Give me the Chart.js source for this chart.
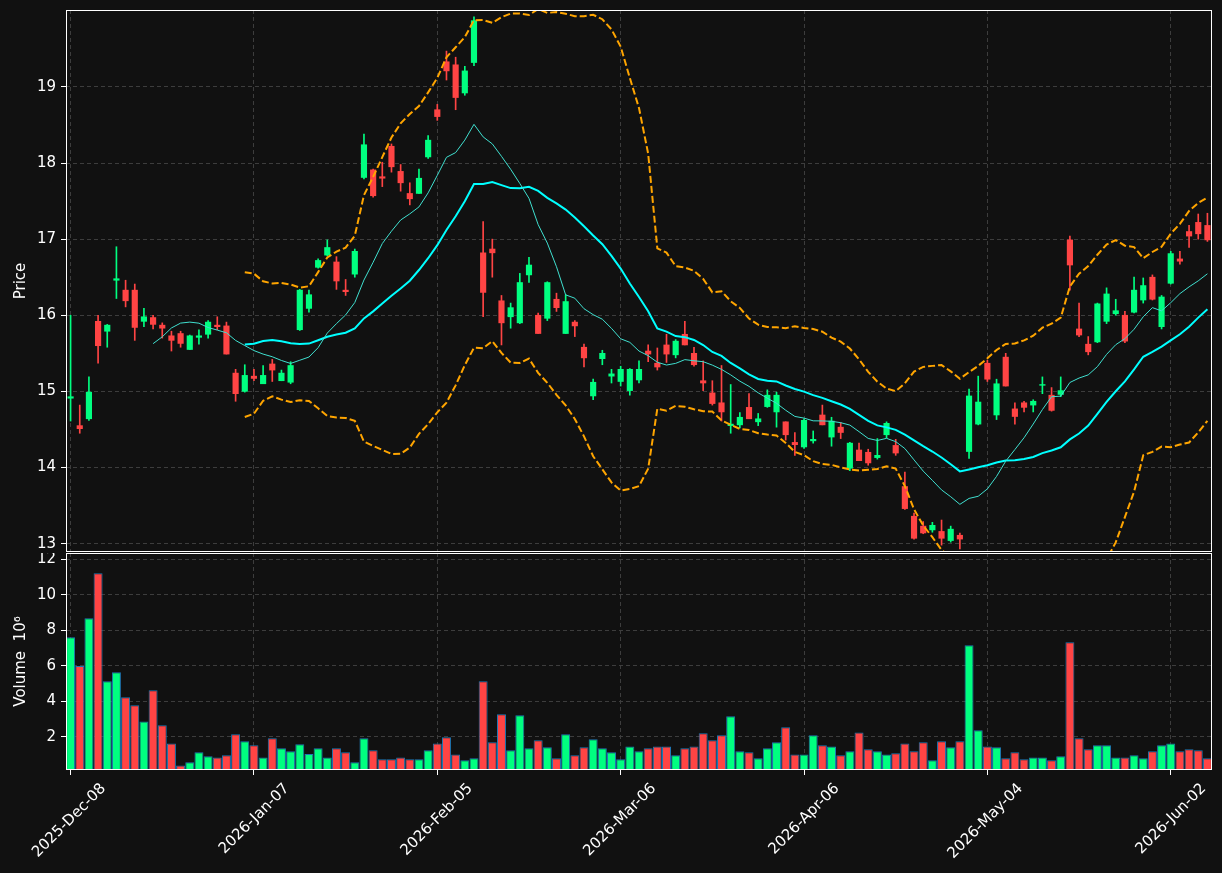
<!DOCTYPE html>
<html>
<head>
<meta charset="utf-8">
<script src="https://cdn.jsdelivr.net/npm/chart.js@4.4.1/dist/chart.umd.min.js"></script>
<style>
  html, body { margin: 0; padding: 0; background: #111111; }
  canvas { position: absolute; left: 0; }
</style>
</head>
<body>
<canvas id="priceChart" width="1222" height="553" style="top:0"></canvas>
<canvas id="volumeChart" width="1222" height="320" style="top:553px"></canvas>
<script>
// trading days shown on the x axis
const labels = [
  '2025-Dec-08','2025-Dec-09','2025-Dec-10','2025-Dec-11','2025-Dec-12',
  '2025-Dec-15','2025-Dec-16','2025-Dec-17','2025-Dec-18','2025-Dec-19',
  '2025-Dec-22','2025-Dec-23','2025-Dec-24','2025-Dec-26',
  '2025-Dec-29','2025-Dec-30','2025-Dec-31','2026-Jan-02',
  '2026-Jan-05','2026-Jan-06','2026-Jan-07','2026-Jan-08','2026-Jan-09',
  '2026-Jan-12','2026-Jan-13','2026-Jan-14','2026-Jan-15','2026-Jan-16',
  '2026-Jan-20','2026-Jan-21','2026-Jan-22','2026-Jan-23',
  '2026-Jan-26','2026-Jan-27','2026-Jan-28','2026-Jan-29','2026-Jan-30',
  '2026-Feb-02','2026-Feb-03','2026-Feb-04','2026-Feb-05','2026-Feb-06',
  '2026-Feb-09','2026-Feb-10','2026-Feb-11','2026-Feb-12','2026-Feb-13',
  '2026-Feb-17','2026-Feb-18','2026-Feb-19','2026-Feb-20',
  '2026-Feb-23','2026-Feb-24','2026-Feb-25','2026-Feb-26','2026-Feb-27',
  '2026-Mar-02','2026-Mar-03','2026-Mar-04','2026-Mar-05','2026-Mar-06',
  '2026-Mar-09','2026-Mar-10','2026-Mar-11','2026-Mar-12','2026-Mar-13',
  '2026-Mar-16','2026-Mar-17','2026-Mar-18','2026-Mar-19','2026-Mar-20',
  '2026-Mar-23','2026-Mar-24','2026-Mar-25','2026-Mar-26','2026-Mar-27',
  '2026-Mar-30','2026-Mar-31','2026-Apr-01','2026-Apr-02',
  '2026-Apr-06','2026-Apr-07','2026-Apr-08','2026-Apr-09','2026-Apr-10',
  '2026-Apr-13','2026-Apr-14','2026-Apr-15','2026-Apr-16','2026-Apr-17',
  '2026-Apr-20','2026-Apr-21','2026-Apr-22','2026-Apr-23','2026-Apr-24',
  '2026-Apr-27','2026-Apr-28','2026-Apr-29','2026-Apr-30','2026-May-01',
  '2026-May-04','2026-May-05','2026-May-06','2026-May-07','2026-May-08',
  '2026-May-11','2026-May-12','2026-May-13','2026-May-14','2026-May-15',
  '2026-May-18','2026-May-19','2026-May-20','2026-May-21','2026-May-22',
  '2026-May-26','2026-May-27','2026-May-28','2026-May-29',
  '2026-Jun-01','2026-Jun-02','2026-Jun-03','2026-Jun-04','2026-Jun-05','2026-Jun-08'
];

const opens = [
  14.91, 14.55, 14.64, 15.92, 15.79, 16.46, 16.33, 16.33, 15.92, 15.97,
  15.87, 15.73, 15.76, 15.55, 15.71, 15.75, 15.87, 15.86, 15.24, 15.00,
  15.20, 15.10, 15.36, 15.14, 15.12, 15.81, 16.09, 16.63, 16.79, 16.70,
  16.33, 16.54, 17.81, 17.91, 17.82, 18.22, 17.89, 17.60, 17.60, 18.08,
  18.70, 19.33, 19.29, 18.92, 19.32, 16.82, 16.87, 16.19, 15.98, 15.90,
  16.53, 16.00, 15.96, 16.21, 15.76, 15.91, 15.58, 14.94, 15.43, 15.20,
  15.13, 15.01, 15.15, 15.53, 15.37, 15.61, 15.48, 15.75, 15.50, 15.14,
  14.98, 14.85, 14.55, 14.56, 14.79, 14.60, 14.80, 14.73, 14.60, 14.33,
  14.27, 14.35, 14.69, 14.40, 14.53, 13.99, 14.23, 14.20, 14.13, 14.43,
  14.29, 13.75, 13.36, 13.23, 13.18, 13.16, 13.04, 13.11, 14.21, 14.57,
  15.37, 14.69, 15.45, 14.77, 14.85, 14.82, 15.08, 14.95, 14.96, 16.99,
  15.82, 15.62, 15.65, 15.92, 16.02, 16.00, 16.04, 16.20, 16.50, 15.85,
  16.42, 16.74, 17.10, 17.22, 17.18
];
const highs = [
  16.00, 14.82, 15.19, 16.00, 15.88, 16.90, 16.46, 16.41, 16.09, 16.00,
  15.90, 15.79, 15.79, 15.74, 15.81, 15.93, 15.98, 15.91, 15.29, 15.35,
  15.29, 15.34, 15.42, 15.28, 15.39, 16.34, 16.33, 16.74, 16.99, 16.77,
  16.47, 16.87, 18.38, 17.92, 18.01, 18.25, 17.98, 17.74, 17.92, 18.36,
  18.77, 19.47, 19.39, 19.27, 19.92, 17.23, 17.00, 16.26, 16.16, 16.55,
  16.76, 16.03, 16.44, 16.29, 16.27, 15.93, 15.62, 15.16, 15.54, 15.29,
  15.33, 15.30, 15.40, 15.61, 15.57, 15.75, 15.68, 15.92, 15.58, 15.40,
  15.14, 15.34, 15.09, 14.72, 14.97, 14.71, 15.02, 14.99, 14.60, 14.46,
  14.64, 14.48, 14.82, 14.66, 14.59, 14.33, 14.32, 14.24, 14.38, 14.60,
  14.37, 13.94, 13.40, 13.29, 13.28, 13.31, 13.23, 13.14, 15.03, 15.20,
  15.41, 15.16, 15.50, 14.85, 14.87, 14.89, 15.19, 15.05, 15.19, 17.04,
  16.16, 15.72, 16.16, 16.36, 16.21, 16.05, 16.50, 16.49, 16.53, 16.26,
  16.84, 16.84, 17.18, 17.33, 17.34
];
const lows = [
  14.61, 14.45, 14.62, 15.37, 15.58, 16.22, 16.11, 15.67, 15.85, 15.82,
  15.70, 15.53, 15.58, 15.55, 15.62, 15.70, 15.81, 15.49, 14.87, 14.99,
  15.14, 15.10, 15.13, 15.14, 15.10, 15.80, 16.04, 16.62, 16.78, 16.34,
  16.26, 16.50, 17.79, 17.55, 17.69, 17.88, 17.63, 17.45, 17.60, 18.06,
  18.56, 19.09, 18.70, 18.89, 19.28, 15.98, 16.50, 15.61, 15.83, 15.89,
  16.43, 15.76, 15.93, 16.05, 15.76, 15.72, 15.32, 14.89, 15.35, 15.11,
  15.07, 14.95, 15.11, 15.39, 15.28, 15.38, 15.44, 15.61, 15.33, 15.01,
  14.82, 14.61, 14.45, 14.52, 14.64, 14.55, 14.79, 14.53, 14.36, 14.16,
  14.25, 14.32, 14.56, 14.28, 14.38, 13.96, 14.09, 14.03, 14.11, 14.39,
  14.16, 13.45, 13.06, 13.13, 13.15, 12.98, 13.02, 12.93, 14.12, 14.56,
  15.13, 14.63, 15.07, 14.57, 14.73, 14.73, 14.97, 14.74, 14.93, 16.33,
  15.72, 15.48, 15.64, 15.89, 16.00, 15.64, 16.03, 16.16, 16.20, 15.82,
  16.41, 16.67, 16.89, 17.00, 16.97
];
const closes = [
  14.93, 14.51, 14.99, 15.60, 15.87, 16.48, 16.19, 15.84, 15.98, 15.88,
  15.83, 15.67, 15.63, 15.73, 15.73, 15.91, 15.85, 15.49, 14.97, 15.21,
  15.17, 15.21, 15.28, 15.24, 15.34, 16.33, 16.27, 16.72, 16.89, 16.45,
  16.31, 16.84, 18.24, 17.57, 17.80, 17.95, 17.74, 17.53, 17.80, 18.30,
  18.61, 19.21, 18.86, 19.21, 19.87, 16.30, 16.82, 15.90, 16.10, 16.43,
  16.66, 15.76, 16.43, 16.10, 16.18, 15.86, 15.44, 15.12, 15.50, 15.23,
  15.29, 15.29, 15.29, 15.49, 15.32, 15.49, 15.66, 15.61, 15.35, 15.11,
  14.84, 14.73, 14.57, 14.66, 14.64, 14.64, 14.95, 14.95, 14.43, 14.30,
  14.62, 14.37, 14.56, 14.61, 14.46, 14.32, 14.09, 14.06, 14.16, 14.58,
  14.19, 13.46, 13.07, 13.14, 13.24, 13.07, 13.19, 13.06, 14.94, 14.86,
  15.16, 15.10, 15.07, 14.67, 14.79, 14.87, 15.09, 14.75, 15.01, 16.66,
  15.74, 15.52, 16.15, 16.28, 16.06, 15.66, 16.33, 16.39, 16.21, 16.24,
  16.81, 16.71, 17.04, 17.07, 16.99
];
// volume in millions
const volumes = [
  7.60, 5.98, 8.67, 11.21, 5.12, 5.63, 4.22, 3.77, 2.86, 4.61,
  2.64, 1.62, 0.38, 0.55, 1.12, 0.89, 0.83, 0.95, 2.13, 1.74,
  1.51, 0.83, 1.91, 1.34, 1.17, 1.57, 1.02, 1.34, 0.83, 1.34,
  1.12, 0.55, 1.91, 1.23, 0.72, 0.72, 0.83, 0.72, 0.72, 1.23,
  1.62, 1.96, 1.00, 0.67, 0.78, 5.12, 1.68, 3.26, 1.23, 3.20,
  1.34, 1.79, 1.40, 0.78, 2.13, 0.95, 1.40, 1.85, 1.34, 1.12,
  0.72, 1.45, 1.17, 1.34, 1.45, 1.45, 0.95, 1.34, 1.45, 2.19,
  1.79, 2.08, 3.15, 1.17, 1.12, 0.78, 1.34, 1.68, 2.53, 1.00,
  1.00, 2.08, 1.51, 1.45, 0.95, 1.17, 2.24, 1.29, 1.17, 1.00,
  1.06, 1.62, 1.17, 1.68, 0.67, 1.74, 1.40, 1.74, 7.15, 2.36,
  1.45, 1.40, 0.78, 1.12, 0.72, 0.83, 0.83, 0.67, 0.89, 7.32,
  1.91, 1.29, 1.51, 1.51, 0.83, 0.83, 0.95, 0.78, 1.17, 1.51,
  1.62, 1.17, 1.29, 1.23, 0.78
];

const xTickLabels = ['2025-Dec-08', '2026-Jan-07', '2026-Feb-05', '2026-Mar-06', '2026-Apr-06', '2026-May-04', '2026-Jun-02'];
const priceTicks = [13, 14, 15, 16, 17, 18, 19];
const volumeTicks = [2, 4, 6, 8, 10, 12];

const UP = '#00ff80';
const DOWN = '#ff4444';
const GRID = '#3d3d3d';
const FG = '#ffffff';

// moving averages and bollinger bands, taken from the closes like the original chart
function sma(values, n) {
  return values.map((_, i) => {
    if (i < n - 1) return null;
    let sum = 0;
    for (let k = i - n + 1; k <= i; k++) sum += values[k];
    return sum / n;
  });
}

function rollingStd(values, n) {
  const mean = sma(values, n);
  return values.map((_, i) => {
    if (mean[i] === null) return null;
    let sq = 0;
    for (let k = i - n + 1; k <= i; k++) sq += (values[k] - mean[i]) ** 2;
    return Math.sqrt(sq / (n - 1));
  });
}

const ma10 = sma(closes, 10);
const ma20 = sma(closes, 20);
const sd20 = rollingStd(closes, 20);
const upperBand = ma20.map((m, i) => m === null ? null : m + 2 * sd20[i]);
const lowerBand = ma20.map((m, i) => m === null ? null : m - 2 * sd20[i]);

const candleColors = closes.map((c, i) => c >= opens[i] ? UP : DOWN);

Chart.defaults.font.family = 'DejaVu Sans';
Chart.defaults.font.size = 15;
Chart.defaults.color = FG;

const frame = {
  id: 'frame',
  afterDraw(chart) {
    const { ctx, chartArea: a } = chart;
    ctx.save();
    ctx.strokeStyle = FG;
    ctx.lineWidth = 1;
    ctx.strokeRect(a.left + 0.5, a.top + 0.5, a.right - a.left - 1, a.bottom - a.top - 1);
    ctx.restore();
  }
};

const keepXTicks = s => {
  s.ticks = s.ticks.filter(t => xTickLabels.includes(labels[t.value]));
};

function yScale(min, max, ticks, title) {
  return {
    min: min,
    max: max,
    afterBuildTicks: s => { s.ticks = ticks.map(v => ({ value: v })); },
    afterFit: s => { s.width = 66; s.paddingTop = 0; s.paddingBottom = 0; },
    grid: { color: GRID, tickColor: FG, tickLength: 5, tickWidth: 1 },
    border: { display: false, dash: [4, 3] },
    ticks: { color: FG, padding: 5 },
    title: { display: true, text: title, color: FG, padding: { top: 12, bottom: 0 } }
  };
}

new Chart(document.getElementById('priceChart'), {
  type: 'bar',
  data: {
    labels: labels,
    datasets: [
      { type: 'line', data: ma10, borderColor: '#40e0d0', borderWidth: 1, pointRadius: 0, order: 0 },
      { type: 'line', data: ma20, borderColor: '#00ffff', borderWidth: 2, pointRadius: 0, order: 0 },
      { type: 'line', data: upperBand, borderColor: '#ffa500', borderWidth: 2, borderDash: [7, 3], pointRadius: 0, order: 0 },
      { type: 'line', data: lowerBand, borderColor: '#ffa500', borderWidth: 2, borderDash: [7, 3], pointRadius: 0, order: 0 },
      {
        data: opens.map((o, i) => [o, closes[i]]),
        backgroundColor: candleColors,
        barThickness: 5.5,
        grouped: false,
        order: 1
      },
      {
        data: lows.map((l, i) => [l, highs[i]]),
        backgroundColor: candleColors,
        barThickness: 1,
        grouped: false,
        order: 2
      }
    ]
  },
  options: {
    responsive: false,
    animation: false,
    events: [],
    layout: { padding: { top: 10, right: 10, bottom: 1, left: 0 } },
    plugins: { legend: { display: false }, tooltip: { enabled: false } },
    scales: {
      x: {
        offset: true,
        afterBuildTicks: keepXTicks,
        afterFit: s => { s.height = 0; s.paddingLeft = 0; s.paddingRight = 0; },
        grid: { offset: false, color: GRID, drawTicks: false },
        border: { display: false, dash: [4, 3] },
        ticks: { display: false, autoSkip: false }
      },
      y: yScale(12.89, 20.01, priceTicks, 'Price')
    }
  },
  plugins: [frame]
});

new Chart(document.getElementById('volumeChart'), {
  type: 'bar',
  data: {
    labels: labels,
    datasets: [{
      data: volumes,
      backgroundColor: candleColors,
      borderColor: '#1f77b4',
      borderWidth: 1,
      barPercentage: 0.98,
      categoryPercentage: 1
    }]
  },
  options: {
    responsive: false,
    animation: false,
    events: [],
    layout: { padding: { top: 0, right: 10, bottom: 0, left: 0 } },
    plugins: { legend: { display: false }, tooltip: { enabled: false } },
    scales: {
      x: {
        offset: true,
        afterBuildTicks: keepXTicks,
        afterFit: s => { s.height = 103; s.paddingLeft = 0; s.paddingRight = 0; },
        grid: { offset: false, color: GRID, tickColor: FG, tickLength: 5 },
        border: { display: false, dash: [4, 3] },
        ticks: { autoSkip: false, minRotation: 45, maxRotation: 45, labelOffset: 33, padding: 5, color: FG }
      },
      y: yScale(0.12, 12.35, volumeTicks, 'Volume  10\u2076')
    }
  },
  plugins: [frame]
});
</script>
</body>
</html>
